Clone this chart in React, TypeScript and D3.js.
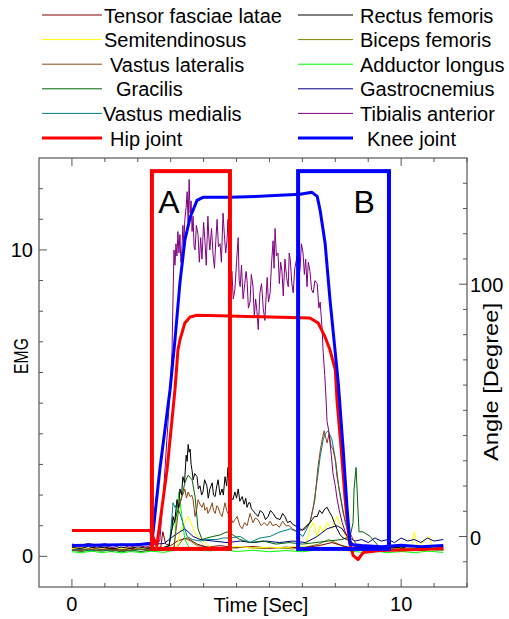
import React from 'react';
import * as d3 from 'd3';

type Pt = [number, number];

// ---------- axis ticks ----------
const timeTicks = [0, 1, 2, 3, 4, 5, 6, 7, 8, 9, 10, 11, 12];
const timeLabels = [0, 10];
const emgTicks = [0, 1, 2, 3, 4, 5, 6, 7, 8, 9, 10, 11, 12];
const emgLabels = [0, 10];
const angleTicks = [-10, 0, 10, 20, 30, 40, 50, 60, 70, 80, 90, 100, 110, 120, 130, 140];
const angleLabels = [0, 100];

// ---------- EMG series (time [s], EMG) ----------
const tensorFasciaeLatae: Pt[] = [
  [0, 0.25], [0.3, 0.2], [0.6, 0.28], [0.9, 0.22], [1.2, 0.27], [1.5, 0.2], [1.8, 0.26], [2.1, 0.22], [2.4, 0.27],
  [2.7, 0.3], [2.76, 0.8], [2.85, 0.4], [3.0, 0.35], [3.2, 0.5], [3.5, 0.6], [3.8, 0.4], [4.1, 0.3], [4.5, 0.35],
  [5.0, 0.28], [5.5, 0.32], [6.0, 0.27], [6.5, 0.3], [7.0, 0.28], [7.5, 0.35], [7.9, 0.45], [8.2, 0.35], [8.6, 0.25],
  [9.0, 0.2], [9.4, 0.26], [9.8, 0.2], [10.2, 0.25], [10.6, 0.2], [11.0, 0.26], [11.28, 0.22],
];
const semitendinosus: Pt[] = [
  [0, 0.25], [0.3, 0.3], [0.6, 0.22], [0.9, 0.28], [1.2, 0.3], [1.5, 0.24], [1.8, 0.3], [2.1, 0.25], [2.4, 0.3],
  [2.8, 0.25], [3.2, 0.3], [3.28, 0.8], [3.43, 1.1], [3.53, 1.3], [3.65, 1.0], [3.8, 0.65], [3.98, 0.5], [4.2, 0.3],
  [4.6, 0.28], [5.0, 0.32], [5.5, 0.27], [6.0, 0.3], [6.5, 0.28], [6.9, 0.35], [7.1, 0.3], [7.23, 0.9], [7.33, 1.1],
  [7.45, 0.65], [7.54, 1.0], [7.63, 0.8], [7.75, 1.1], [7.9, 0.9], [8.05, 1.3], [8.21, 0.9], [8.36, 0.55], [8.5, 0.3],
  [8.9, 0.25], [9.3, 0.3], [9.7, 0.22], [10.0, 0.28], [10.3, 0.25], [10.4, 0.8], [10.5, 0.3], [10.85, 0.65],
  [10.95, 0.3], [11.28, 0.25],
];
const vastusLateralis: Pt[] = [
  [0, 0.22], [0.25, 0.18], [0.5, 0.25], [0.75, 0.2], [1.0, 0.24], [1.25, 0.18], [1.5, 0.23], [1.75, 0.19], [2.0, 0.25],
  [2.25, 0.2], [2.5, 0.24], [2.8, 0.2], [3.1, 0.3], [3.19, 1.1], [3.25, 1.6], [3.34, 1.95], [3.4, 2.1], [3.43, 2.2],
  [3.48, 1.9], [3.53, 2.1], [3.59, 1.95], [3.64, 2.0], [3.68, 1.85], [3.74, 1.3], [3.8, 1.6], [3.83, 1.85], [3.89, 1.7],
  [3.95, 1.6], [4.0, 1.75], [4.04, 1.5], [4.1, 1.6], [4.13, 1.4], [4.2, 1.55], [4.26, 1.75], [4.3, 1.5], [4.35, 1.4],
  [4.4, 1.65], [4.44, 1.6], [4.5, 1.4], [4.56, 1.3], [4.6, 1.5], [4.65, 1.75], [4.7, 1.5], [4.74, 1.4], [4.8, 1.3],
  [4.89, 1.1], [4.95, 1.2], [5.02, 1.3], [5.1, 1.0], [5.17, 0.9], [5.25, 1.1], [5.32, 1.0], [5.41, 1.4], [5.5, 1.1],
  [5.57, 1.25], [5.65, 1.2], [5.75, 1.0], [5.84, 1.1], [5.93, 1.0], [6.02, 1.15], [6.1, 1.0], [6.2, 1.05], [6.3, 0.95],
  [6.4, 1.15], [6.5, 1.0], [6.6, 1.0], [6.7, 0.9], [6.84, 0.8], [6.95, 0.85], [7.02, 0.9], [7.12, 1.0], [7.23, 1.1],
  [7.38, 1.85], [7.47, 2.9], [7.55, 3.5], [7.6, 3.8], [7.66, 4.1], [7.75, 3.7], [7.81, 4.0], [7.87, 3.6], [7.93, 3.5],
  [8.02, 3.05], [8.11, 2.2], [8.24, 1.4], [8.39, 0.9], [8.54, 0.55], [8.7, 0.3], [9.0, 0.25], [9.3, 0.2], [9.6, 0.26],
  [9.9, 0.2], [10.2, 0.25], [10.5, 0.19], [10.8, 0.24], [11.1, 0.2], [11.28, 0.23],
];
const gracilis: Pt[] = [
  [0, 0.2], [0.3, 0.16], [0.6, 0.22], [0.9, 0.17], [1.2, 0.21], [1.5, 0.15], [1.8, 0.2], [2.1, 0.16], [2.4, 0.21],
  [2.7, 0.2], [2.95, 0.35], [3.04, 0.9], [3.19, 1.4], [3.34, 1.95], [3.43, 2.4], [3.53, 2.65], [3.65, 2.5],
  [3.74, 1.95], [3.83, 0.9], [3.95, 0.55], [4.1, 0.6], [4.29, 0.65], [4.5, 0.7], [4.71, 0.8], [4.89, 0.7], [5.1, 0.55],
  [5.4, 0.45], [5.8, 0.5], [6.2, 0.4], [6.6, 0.45], [7.0, 0.4], [7.4, 0.45], [7.8, 0.5], [8.2, 0.55], [8.45, 0.65],
  [8.54, 1.1], [8.57, 2.2], [8.63, 2.9], [8.66, 2.2], [8.72, 0.8], [8.84, 0.8], [9.06, 0.65], [9.3, 0.35], [9.6, 0.25],
  [9.9, 0.3], [10.2, 0.22], [10.5, 0.28], [10.8, 0.22], [11.1, 0.27], [11.28, 0.24],
];
const vastusMedialis: Pt[] = [
  [0, 0.2], [0.3, 0.24], [0.6, 0.18], [0.9, 0.23], [1.2, 0.17], [1.5, 0.22], [1.8, 0.18], [2.1, 0.24], [2.4, 0.19],
  [2.7, 0.22], [2.95, 0.3], [3.04, 1.3], [3.07, 1.75], [3.13, 1.6], [3.19, 1.7], [3.24, 1.5], [3.28, 1.4], [3.37, 1.1],
  [3.5, 0.65], [3.65, 0.55], [3.89, 0.5], [4.1, 0.55], [4.41, 0.55], [4.6, 0.6], [4.8, 0.6], [5.11, 0.65], [5.4, 0.45],
  [5.5, 0.5], [5.71, 0.6], [6.02, 0.65], [6.32, 0.8], [6.5, 0.85], [6.63, 0.9], [6.84, 0.8], [7.02, 0.65], [7.23, 1.1],
  [7.33, 1.6], [7.45, 2.5], [7.54, 3.25], [7.63, 3.8], [7.69, 4.0], [7.78, 4.1], [7.9, 3.8], [7.99, 3.25], [8.05, 2.6],
  [8.18, 1.85], [8.3, 1.1], [8.45, 0.55], [8.6, 0.3], [8.9, 0.22], [9.2, 0.27], [9.5, 0.2], [9.8, 0.25], [10.1, 0.19],
  [10.4, 0.24], [10.7, 0.2], [11.0, 0.25], [11.28, 0.2],
];
const rectusFemoris: Pt[] = [
  [0, 0.3], [0.25, 0.25], [0.5, 0.32], [0.75, 0.27], [1.0, 0.3], [1.25, 0.24], [1.5, 0.3], [1.75, 0.26], [2.0, 0.31],
  [2.25, 0.27], [2.5, 0.3], [2.75, 0.28], [2.95, 0.35], [3.04, 0.9], [3.07, 1.3], [3.12, 1.1], [3.19, 1.85], [3.24, 1.6],
  [3.28, 2.2], [3.33, 2.0], [3.37, 2.6], [3.42, 2.4], [3.47, 3.3], [3.5, 3.1], [3.53, 3.65], [3.56, 3.4], [3.59, 3.5],
  [3.62, 3.0], [3.65, 2.8], [3.68, 2.5], [3.73, 2.7], [3.8, 2.6], [3.84, 2.2], [3.89, 2.3], [3.94, 2.0], [3.98, 2.1],
  [4.03, 2.5], [4.1, 2.3], [4.14, 1.9], [4.19, 2.2], [4.26, 2.4], [4.3, 2.0], [4.35, 1.95], [4.4, 2.3], [4.44, 2.5],
  [4.5, 2.0], [4.56, 2.2], [4.6, 2.0], [4.65, 2.6], [4.7, 2.3], [4.74, 2.9], [4.8, 2.2], [4.85, 1.9], [4.89, 1.85],
  [4.95, 2.1], [5.0, 1.9], [5.05, 2.2], [5.1, 1.8], [5.17, 1.95], [5.23, 1.7], [5.28, 1.9], [5.32, 1.6], [5.37, 1.75],
  [5.41, 1.75], [5.45, 1.55], [5.5, 1.5], [5.57, 1.4], [5.65, 1.3], [5.72, 1.5], [5.81, 1.4], [5.88, 1.2], [5.96, 1.3],
  [6.03, 1.5], [6.11, 1.4], [6.2, 1.25], [6.32, 1.2], [6.4, 1.4], [6.47, 1.3], [6.55, 1.1], [6.63, 1.15], [6.7, 1.05],
  [6.78, 1.0], [6.85, 0.95], [6.93, 0.9], [7.0, 0.85], [7.08, 0.9], [7.15, 1.0], [7.23, 1.1], [7.3, 1.2], [7.37, 1.3],
  [7.45, 1.3], [7.52, 1.5], [7.6, 1.4], [7.68, 1.55], [7.75, 1.6], [7.82, 1.45], [7.9, 1.3], [7.97, 1.1], [8.05, 0.9],
  [8.15, 0.7], [8.24, 0.6], [8.35, 0.55], [8.45, 0.5], [8.6, 0.35], [8.8, 0.3], [9.0, 0.33], [9.25, 0.28], [9.5, 0.32],
  [9.75, 0.3], [10.0, 0.27], [10.25, 0.33], [10.5, 0.3], [10.75, 0.28], [11.0, 0.32], [11.28, 0.3],
];
const bicepsFemoris: Pt[] = [
  [0, 0.2], [0.4, 0.24], [0.8, 0.18], [1.2, 0.23], [1.6, 0.19], [2.0, 0.24], [2.4, 0.2], [2.8, 0.22], [3.2, 0.3],
  [3.4, 0.6], [3.6, 0.5], [3.8, 0.35], [4.2, 0.3], [4.7, 0.25], [5.2, 0.3], [5.7, 0.25], [6.2, 0.28], [6.7, 0.24],
  [7.1, 0.3], [7.5, 0.4], [7.8, 0.55], [8.1, 0.4], [8.4, 0.25], [8.8, 0.2], [9.2, 0.25], [9.6, 0.19], [10.0, 0.24],
  [10.4, 0.2], [10.8, 0.25], [11.28, 0.2],
];
const adductorLongus: Pt[] = [
  [0, 0.15], [0.3, 0.12], [0.6, 0.17], [0.9, 0.12], [1.2, 0.16], [1.5, 0.11], [1.8, 0.16], [2.1, 0.12], [2.4, 0.17],
  [2.8, 0.13], [3.1, 0.2], [3.13, 0.65], [3.19, 1.6], [3.25, 2.1], [3.34, 1.3], [3.43, 0.55], [3.55, 0.3], [3.8, 0.2],
  [4.2, 0.18], [4.6, 0.22], [5.0, 0.16], [5.5, 0.2], [6.0, 0.15], [6.5, 0.19], [7.0, 0.15], [7.5, 0.22], [8.0, 0.25],
  [8.4, 0.18], [8.8, 0.13], [9.2, 0.17], [9.6, 0.12], [10.0, 0.16], [10.4, 0.12], [10.8, 0.17], [11.28, 0.13],
];
const gastrocnemius: Pt[] = [
  [0, 0.4], [0.25, 0.36], [0.5, 0.42], [0.75, 0.37], [1.0, 0.41], [1.25, 0.35], [1.5, 0.4], [1.75, 0.36], [2.0, 0.42],
  [2.25, 0.37], [2.5, 0.4], [2.8, 0.42], [3.07, 0.65], [3.28, 0.8], [3.43, 0.9], [3.53, 0.8], [3.68, 0.65], [3.89, 0.55],
  [4.29, 0.5], [4.71, 0.45], [5.11, 0.5], [5.5, 0.45], [5.9, 0.5], [6.3, 0.45], [6.7, 0.5], [7.1, 0.45], [7.45, 0.65],
  [7.75, 0.9], [8.05, 1.0], [8.21, 0.9], [8.36, 0.65], [8.6, 0.5], [8.8, 0.55], [9.0, 0.45], [9.2, 0.6], [9.4, 0.5],
  [9.6, 0.55], [9.8, 0.45], [10.0, 0.6], [10.2, 0.5], [10.4, 0.55], [10.6, 0.45], [10.8, 0.6], [11.0, 0.5], [11.28, 0.55],
];
const tibialisAnterior: Pt[] = [
  [0, 0.35], [0.25, 0.3], [0.5, 0.4], [0.75, 0.3], [1.0, 0.35], [1.25, 0.28], [1.5, 0.38], [1.75, 0.3], [2.0, 0.36],
  [2.25, 0.3], [2.45, 0.38], [2.55, 0.4], [2.67, 0.5], [2.8, 2.4], [2.89, 3.9], [2.98, 5.4], [3.04, 6.7], [3.07, 8.4],
  [3.1, 10.0], [3.13, 9.5], [3.16, 10.2], [3.19, 9.8], [3.22, 10.6], [3.25, 9.9], [3.28, 10.5], [3.31, 9.6], [3.34, 10.0],
  [3.37, 10.8], [3.4, 10.2], [3.43, 11.0], [3.47, 11.4], [3.5, 11.9], [3.53, 10.9], [3.56, 12.3], [3.59, 11.2],
  [3.62, 11.6], [3.65, 10.6], [3.68, 11.1], [3.71, 10.1], [3.74, 10.0], [3.78, 10.8], [3.83, 10.5], [3.87, 9.6],
  [3.91, 10.4], [3.95, 9.7], [4.0, 10.9], [4.04, 10.3], [4.08, 9.5], [4.13, 11.1], [4.16, 10.4], [4.19, 10.0],
  [4.24, 10.7], [4.29, 9.8], [4.33, 9.4], [4.37, 10.3], [4.41, 11.0], [4.45, 10.1], [4.5, 10.2], [4.54, 9.6],
  [4.59, 11.2], [4.63, 10.5], [4.67, 9.9], [4.71, 10.3], [4.74, 11.0], [4.77, 9.9], [4.8, 10.6], [4.83, 9.1], [4.86, 9.3],
  [4.9, 8.4], [4.95, 8.7], [5.0, 9.6], [5.05, 10.4], [5.08, 9.0], [5.11, 8.8], [5.15, 9.5], [5.2, 8.4], [5.25, 8.9],
  [5.29, 9.3], [5.32, 9.0], [5.36, 8.1], [5.41, 8.3], [5.45, 9.2], [5.5, 8.8], [5.54, 7.8], [5.58, 8.4], [5.62, 8.0],
  [5.66, 7.4], [5.71, 8.6], [5.76, 8.9], [5.81, 8.1], [5.86, 7.7], [5.9, 8.5], [5.93, 9.1], [5.97, 8.3], [6.02, 8.6],
  [6.06, 9.5], [6.11, 10.3], [6.14, 9.4], [6.17, 10.7], [6.21, 9.8], [6.26, 9.9], [6.3, 8.9], [6.34, 9.6], [6.38, 9.3],
  [6.42, 8.5], [6.47, 9.7], [6.52, 9.1], [6.57, 8.8], [6.6, 9.9], [6.63, 9.7], [6.68, 8.9], [6.72, 8.6], [6.77, 9.4],
  [6.84, 9.8], [6.88, 9.0], [6.93, 9.4], [6.97, 10.2], [7.02, 9.9], [7.06, 9.2], [7.1, 9.7], [7.14, 8.8], [7.18, 9.6],
  [7.23, 9.3], [7.28, 8.7], [7.33, 8.6], [7.38, 9.0], [7.45, 8.9], [7.5, 8.1], [7.54, 8.3], [7.6, 7.4], [7.63, 6.7],
  [7.68, 5.9], [7.72, 5.1], [7.75, 4.4], [7.8, 4.1], [7.84, 3.7], [7.88, 3.3], [7.93, 2.7], [8.0, 2.3], [8.05, 1.9],
  [8.12, 1.5], [8.21, 1.1], [8.3, 0.8], [8.36, 0.65], [8.45, 0.45], [8.55, 0.35], [8.75, 0.3], [9.0, 0.35], [9.25, 0.28],
  [9.5, 0.33], [9.75, 0.3], [10.0, 0.36], [10.25, 0.3], [10.5, 0.33], [10.75, 0.28], [11.0, 0.34], [11.28, 0.3],
];

// ---------- joint angles (time [s], degree) ----------
const hipJoint: Pt[] = [
  [0, 2.4], [2.37, 2.4], [2.58, -3.6], [2.89, 26.5], [3.13, 58.1], [3.22, 73.9], [3.28, 77.9], [3.43, 84.6],
  [3.59, 87.0], [3.8, 87.7], [4.8, 87.4], [6.02, 87.0], [7.23, 86.6], [7.48, 84.6], [7.69, 79.1], [7.84, 73.9],
  [8.0, 66.0], [8.05, 54.2], [8.18, 34.4], [8.3, 14.6], [8.42, -1.2], [8.54, -7.5], [8.69, -9.1], [8.85, -6.3],
  [9.36, -5.5], [10.58, -5.1], [11.28, -4.7],
];
const kneeJoint: Pt[] = [
  [0, -3.6], [2.07, -3.2], [2.31, -2.8], [2.43, -2.4], [2.67, 26.5], [2.98, 58.1], [3.13, 77.9], [3.28, 100.4],
  [3.43, 117.4], [3.59, 126.5], [3.8, 133.2], [3.98, 134.4], [4.8, 134.4], [5.71, 134.8], [6.32, 135.2], [6.93, 135.6],
  [7.29, 136.4], [7.45, 134.8], [7.54, 129.2], [7.69, 116.2], [7.84, 93.7], [7.96, 77.9], [8.09, 60.9], [8.24, 34.4],
  [8.36, 10.7], [8.45, -3.2], [8.8, -3.6], [9.4, -4.0], [10.0, -3.5], [10.6, -4.0], [11.28, -3.6],
];

// ---------- annotation boxes (time [s], degree) ----------
const boxes = [
  { label: 'A', color: '#ff0000', t0: 2.43, t1: 4.8, a0: -4.9, a1: 144.8, labelT: 2.95 },
  { label: 'B', color: '#0000ff', t0: 6.87, t1: 9.63, a0: -4.9, a1: 144.8, labelT: 8.88 },
];

// ---------- series meta ----------
const emgSeries = [
  { name: 'Biceps femoris', color: '#808000', data: bicepsFemoris },
  { name: 'Tensor fasciae latae', color: '#800000', data: tensorFasciaeLatae },
  { name: 'Adductor longus', color: '#00ff00', data: adductorLongus },
  { name: 'Semitendinosus', color: '#ffff00', data: semitendinosus },
  { name: 'Gastrocnemius', color: '#000080', data: gastrocnemius },
  { name: 'Gracilis', color: '#006400', data: gracilis },
  { name: 'Vastus medialis', color: '#008080', data: vastusMedialis },
  { name: 'Vastus lateralis', color: '#8b4513', data: vastusLateralis },
  { name: 'Rectus femoris', color: '#000000', data: rectusFemoris },
  { name: 'Tibialis anterior', color: '#800080', data: tibialisAnterior },
];
const angleSeries = [
  { name: 'Hip joint', color: '#ff0000', data: hipJoint },
  { name: 'Knee joint', color: '#0000ff', data: kneeJoint },
];

const legendLeft = [
  { name: 'Tensor fasciae latae', color: '#800000', w: 1, dx: 0 },
  { name: 'Semitendinosus', color: '#ffff00', w: 1, dx: 0 },
  { name: 'Vastus lateralis', color: '#8b4513', w: 1, dx: 6 },
  { name: 'Gracilis', color: '#006400', w: 1, dx: 12 },
  { name: 'Vastus medialis', color: '#008080', w: 1, dx: -1 },
  { name: 'Hip joint', color: '#ff0000', w: 3, dx: 6 },
];
const legendRight = [
  { name: 'Rectus femoris', color: '#000000', w: 1, dx: 0 },
  { name: 'Biceps femoris', color: '#808000', w: 1, dx: 0 },
  { name: 'Adductor longus', color: '#00ff00', w: 1, dx: 0 },
  { name: 'Gastrocnemius', color: '#000080', w: 1, dx: 0 },
  { name: 'Tibialis anterior', color: '#800080', w: 1, dx: 0 },
  { name: 'Knee joint', color: '#0000ff', w: 3, dx: 7 },
];

const W = 509;
const H = 619;
const left = 39, right = 467, top = 158, bottom = 587;
const FONT = "'Liberation Sans', Arial, sans-serif";
const AX = '#555555';

export default function App() {
  const x = d3.scaleLinear().domain([-1, 12]).range([left, right]);
  const yE = d3.scaleLinear().domain([-1, 13]).range([bottom, top]);
  const yA = d3.scaleLinear().domain([-20, 150]).range([bottom, top]);
  const lineE = d3.line<Pt>().x(d => x(d[0])).y(d => yE(d[1]));
  const lineA = d3.line<Pt>().x(d => x(d[0])).y(d => yA(d[1]));

  const legendRowY = [15, 39.6, 64.2, 88.8, 113.4, 138];

  return (
    <svg width={W} height={H} style={{ position: 'absolute', left: 0, top: 0, background: '#fff' }}
      fontFamily={FONT}>
      <rect x={0} y={0} width={W} height={H} fill="#fff" />
      {/* legend */}
      {legendLeft.map((l, i) => (
        <g key={'ll' + i}>
          <line x1={42} x2={102} y1={legendRowY[i]} y2={legendRowY[i]} stroke={l.color} strokeWidth={l.w} />
          <text x={104 + l.dx} y={legendRowY[i] + 7.5} fontSize={20} fill="#000">{l.name}</text>
        </g>
      ))}
      {legendRight.map((l, i) => (
        <g key={'lr' + i}>
          <line x1={298} x2={353} y1={legendRowY[i]} y2={legendRowY[i]} stroke={l.color} strokeWidth={l.w} />
          <text x={360 + l.dx} y={legendRowY[i] + 7.5} fontSize={20} fill="#000">{l.name}</text>
        </g>
      ))}

      {/* frame */}
      <rect x={left} y={top} width={right - left} height={bottom - top} fill="none" stroke={AX} strokeWidth={1.2} />

      {/* x ticks (bottom and top, inward) */}
      {timeTicks.map(t => {
        const major = timeLabels.includes(t);
        const len = major ? 8 : 4;
        return (
          <g key={'xt' + t}>
            <line x1={x(t)} x2={x(t)} y1={bottom} y2={bottom - len} stroke={AX} />
            <line x1={x(t)} x2={x(t)} y1={top} y2={top + len} stroke={AX} />
          </g>
        );
      })}
      {timeLabels.map(t => (
        <text key={'xl' + t} x={x(t)} y={611} fontSize={20} textAnchor="middle" fill="#000">{t}</text>
      ))}
      <text x={261} y={612} fontSize={20} textAnchor="middle" fill="#000">Time [Sec]</text>

      {/* left axis */}
      {emgTicks.map(v => {
        const major = emgLabels.includes(v);
        return <line key={'yt' + v} x1={left} x2={left + (major ? 8 : 4)} y1={yE(v)} y2={yE(v)} stroke={AX} />;
      })}
      {emgLabels.map(v => (
        <text key={'yl' + v} x={33} y={yE(v) + 7} fontSize={20} textAnchor="end" fill="#000">{v}</text>
      ))}
      <text transform="translate(28,356) rotate(-90)" fontSize={20} textAnchor="middle" fill="#000"
        textLength={36} lengthAdjust="spacingAndGlyphs">EMG</text>

      {/* right axis */}
      {angleTicks.map(v => {
        const major = angleLabels.includes(v);
        return <line key={'at' + v} x1={right} x2={right - (major ? 8 : 4)} y1={yA(v)} y2={yA(v)} stroke={AX} />;
      })}
      {angleLabels.map(v => (
        <text key={'al' + v} x={470} y={yA(v) + 8} fontSize={20} fill="#000">{v}</text>
      ))}
      <text transform="translate(498,382) rotate(-90)" fontSize={20} textAnchor="middle" fill="#000"
        textLength={158} lengthAdjust="spacingAndGlyphs">Angle [Degree]</text>

      {/* EMG traces */}
      {emgSeries.map(s => (
        <path key={s.name} d={lineE(s.data) || ''} fill="none" stroke={s.color} strokeWidth={1} strokeLinejoin="round" />
      ))}

      {/* joint angles */}
      {angleSeries.map(s => (
        <path key={s.name} d={lineA(s.data) || ''} fill="none" stroke={s.color} strokeWidth={3} strokeLinejoin="round" />
      ))}

      {/* boxes */}
      {boxes.map(b => (
        <g key={b.label}>
          <rect x={x(b.t0)} y={yA(b.a1)} width={x(b.t1) - x(b.t0)} height={yA(b.a0) - yA(b.a1)}
            fill="none" stroke={b.color} strokeWidth={4} />
          <text x={x(b.labelT)} y={213} fontSize={32} textAnchor="middle" fill="#000">{b.label}</text>
        </g>
      ))}
    </svg>
  );
}
